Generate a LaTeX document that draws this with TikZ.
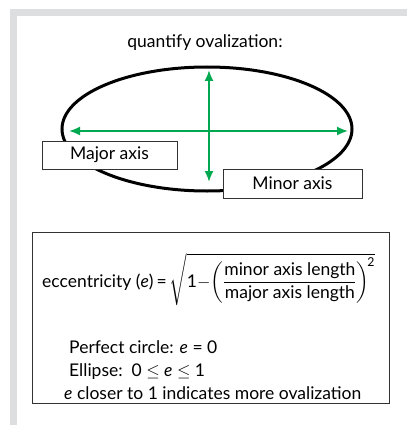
\documentclass[tikz,border=0pt]{standalone}
\usepackage{amsmath}
\usepackage{fontspec}
\setmainfont{Lato}
\definecolor{framegray}{RGB}{221,222,224}
\definecolor{axisgreen}{RGB}{0,168,80}
\tikzset{
  axisarrow/.style={axisgreen, line width=1.8pt, {Latex[length=11pt,width=9pt]}-{Latex[length=11pt,width=9pt]}},
  labelbox/.style={draw=black!80, fill=white, line width=0.6pt, minimum width=135pt, minimum height=28pt, inner sep=0pt},
  formulaline/.style={anchor=base west, inner sep=0pt}
}
\usetikzlibrary{arrows.meta}
\begin{document}
\begin{tikzpicture}[x=1pt,y=-1pt,font=\fontsize{17.5}{21}\selectfont]
\useasboundingbox (0,0) rectangle (407,425);
% grey frame
\fill[framegray] (10,9) rectangle (407,16);
\fill[framegray] (10,9) rectangle (17,425);

\node (title) at (205,43) {quantify ovalization:};

% the oval and its axes
\draw[line width=3pt] (207,129) ellipse [x radius=145, y radius=62];
\coordinate (hl) at (69,131);
\coordinate (hr) at (348,131);
\coordinate (vt) at (209,70);
\coordinate (vb) at (209,182);
\draw[axisarrow] (hl) -- (hr);
\draw[axisarrow] (vt) -- (vb);

\node[labelbox] (major) at (109.5,155) {Major axis};
\node[labelbox, minimum width=139pt, minimum height=29pt] (minor) at (292.5,183.5) {Minor axis};

% formula box
\draw[black!80, line width=0.7pt] (32,232) rectangle (389,403);
\node[formulaline] (ecc) at (42,287) {eccentricity (\textit{e})\,=\,%
  $\sqrt{\text{1}{-}\!\left(\dfrac{\text{minor axis length}}{\text{major axis length}}\right)^{\!\text{2}}}$};
\node[formulaline] (circ) at (69,353) {Perfect circle: \textit{e} = 0};
\node[formulaline] (ell) at (69,376) {Ellipse:\ \ 0 $\leq$ \textit{e} $\leq$ 1};
\node[formulaline] (closer) at (64,399) {\textit{e} closer to 1 indicates more ovalization};
\end{tikzpicture}
\end{document}
